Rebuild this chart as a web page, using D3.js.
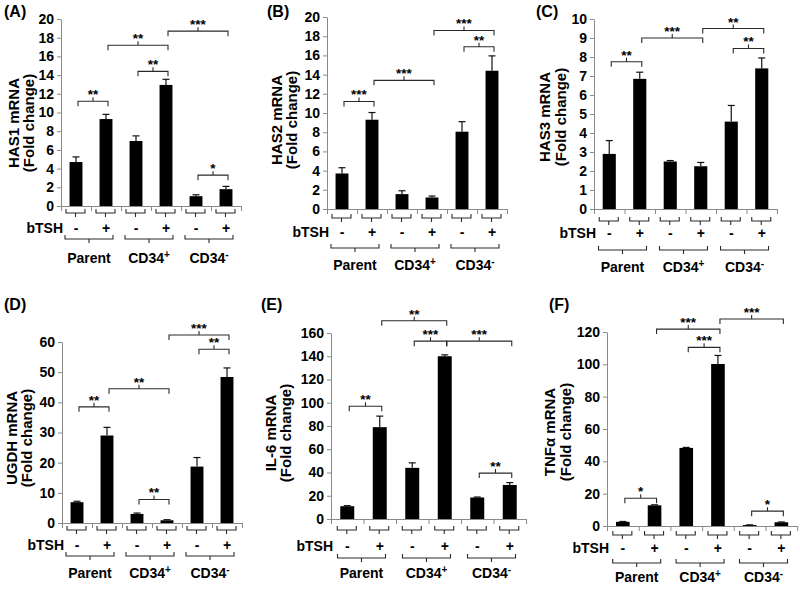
<!DOCTYPE html>
<html>
<head>
<meta charset="utf-8">
<style>
  body { margin: 0; background: #fff; }
  svg { font-family: "Liberation Sans", Arial, sans-serif; font-weight: bold; }
  .axis path, .axis line { stroke: #8a8a8a; }
  .axis text { font-size: 14px; font-weight: bold; fill: #000; font-family: "Liberation Sans", Arial, sans-serif; }
  .bracket { fill: none; stroke: #2a2a2a; stroke-width: 1.1; }
  .err { stroke: #111; stroke-width: 1.2; }
</style>
</head>
<body>
<svg id="chart" width="800" height="589"></svg>
<script src="https://cdn.jsdelivr.net/npm/d3@7/dist/d3.min.js"></script>
<script>
// categories
const groupNames = ["Parent", "CD34+", "CD34-"]
const bTSH = ["-", "+", "-", "+", "-", "+"]

// means and error bars (fold change)
const has1Mean = [4.7, 9.3, 6.95, 12.95, 1.05, 1.8]
const has1Err = [0.55, 0.5, 0.55, 0.6, 0.15, 0.3]
const has2Mean = [3.7, 9.3, 1.55, 1.2, 8.05, 14.4]
const has2Err = [0.6, 0.75, 0.35, 0.15, 1.05, 1.55]
const has3Mean = [2.9, 6.85, 2.5, 2.25, 4.6, 7.4]
const has3Err = [0.7, 0.35, 0.05, 0.2, 0.85, 0.55]
const ugdhMean = [6.9, 29.0, 3.0, 0.9, 18.7, 48.4]
const ugdhErr = [0.3, 2.7, 0.3, 0.2, 3.0, 3.0]
const il6Mean = [11, 79, 44, 140, 18.5, 29.3]
const il6Err = [0.5, 9.5, 4.3, 1.2, 0.4, 2.0]
const tnfMean = [2.6, 12.8, 48.3, 100.2, 0.6, 2.3]
const tnfErr = [0.2, 0.3, 0.3, 5.3, 0.1, 0.2]

// significance brackets: [from bar, to bar, label, height in data units]
const has1Sig = [[0, 1, "**", 11.2], [1, 3, "**", 17.2], [2, 3, "**", 14.4], [3, 5, "***", 18.7], [4, 5, "*", 3.3]]
const has2Sig = [[0, 1, "***", 11.2], [1, 3, "***", 13.4], [3, 5, "***", 18.6], [4, 5, "**", 16.9]]
const has3Sig = [[0, 1, "**", 7.75], [1, 3, "***", 9.0], [3, 5, "**", 9.5], [4, 5, "**", 8.45]]
const ugdhSig = [[0, 1, "**", 38.5], [1, 3, "**", 44.5], [2, 3, "**", 7.8], [3, 5, "***", 62.3], [4, 5, "**", 57.6]]
const il6Sig = [[0, 1, "**", 97], [1, 3, "**", 170.6], [2, 3, "***", 153], [3, 5, "***", 153], [4, 5, "**", 39.5]]
const tnfSig = [[0, 1, "*", 17.2], [1, 3, "***", 121.8], [2, 3, "***", 110.5], [3, 5, "***", 128], [4, 5, "*", 9.2]]

// panel layout
const panels = [
    { tag: "(A)", gene: "HAS1", mean: has1Mean, err: has1Err, sig: has1Sig, max: 20, tick: 2,
      x0: 61, step: 30, top: 19, bottom: 206, rows: [213, 228, 239, 258], tagAt: [4, 17], title: [14, 29, 123] },
    { tag: "(B)", gene: "HAS2", mean: has2Mean, err: has2Err, sig: has2Sig, max: 20, tick: 2,
      x0: 327, step: 30, top: 17, bottom: 209, rows: [218, 232, 248, 265], tagAt: [267, 17], title: [277, 292, 120] },
    { tag: "(C)", gene: "HAS3", mean: has3Mean, err: has3Err, sig: has3Sig, max: 10, tick: 1,
      x0: 594, step: 30.5, top: 19, bottom: 209, rows: [221, 233, 250, 267], tagAt: [536, 17], title: [545, 561, 117] },
    { tag: "(D)", gene: "UGDH", mean: ugdhMean, err: ugdhErr, sig: ugdhSig, max: 60, tick: 10,
      x0: 62, step: 30, top: 342, bottom: 523, rows: [530, 545, 556, 573], tagAt: [4, 310], title: [12, 27, 438] },
    { tag: "(E)", gene: "IL-6", mean: il6Mean, err: il6Err, sig: il6Sig, max: 160, tick: 20,
      x0: 331, step: 32.5, top: 333, bottom: 519, rows: [530, 546, 558, 573], tagAt: [261, 310], title: [271, 286, 433] },
    { tag: "(F)", gene: "TNF\u03b1", mean: tnfMean, err: tnfErr, sig: tnfSig, max: 120, tick: 20,
      x0: 607, step: 31.7, top: 332, bottom: 526, rows: [535, 548, 563, 577], tagAt: [549, 310], title: [550, 566, 432] }
]

let svg = d3.select("#chart")

function bracketDown(g, x1, x2, y) {
    // ends point up, centre tick points down
    let xm = (x1 + x2) / 2
    g.append("path").attr("class", "bracket")
        .attr("d", `M${x1},${y - 4}V${y}H${x2}V${y - 4}M${xm},${y}V${y + 4}`)
}

function drawPanel(p) {
    let g = svg.append("g")
    let idx = d3.range(p.mean.length)
    let width = p.step * idx.length

    let x = d3.scaleBand().domain(idx).range([p.x0, p.x0 + width])
        .paddingInner(0.57).paddingOuter(0.285)
    let y = d3.scaleLinear().domain([0, p.max]).range([p.bottom, p.top])
    let cx = i => x(i) + x.bandwidth() / 2

    // y axis
    g.append("g").attr("class", "axis")
        .attr("transform", `translate(${p.x0},0)`)
        .call(d3.axisLeft(y).tickValues(d3.range(0, p.max + p.tick / 2, p.tick)).tickSize(4).tickSizeOuter(0).tickPadding(3))

    // x axis with ticks on category boundaries
    let xb = d3.scaleLinear().domain([0, idx.length]).range([p.x0, p.x0 + width])
    g.append("g").attr("class", "axis")
        .attr("transform", `translate(0,${p.bottom})`)
        .call(d3.axisBottom(xb).tickValues(d3.range(0, idx.length + 1)).tickSize(5).tickSizeOuter(0).tickFormat(""))

    // bars
    g.selectAll("rect.bar").data(idx).enter().append("rect")
        .attr("x", i => x(i))
        .attr("width", x.bandwidth())
        .attr("y", i => y(p.mean[i]))
        .attr("height", i => p.bottom - y(p.mean[i]))
        .attr("fill", "#000")

    // error bars
    idx.forEach(i => {
        let yt = y(p.mean[i] + p.err[i])
        g.append("line").attr("class", "err").attr("x1", cx(i)).attr("x2", cx(i))
            .attr("y1", y(p.mean[i])).attr("y2", yt)
        g.append("line").attr("class", "err").attr("x1", cx(i) - 3.5).attr("x2", cx(i) + 3.5)
            .attr("y1", yt).attr("y2", yt)
    })

    // significance brackets
    p.sig.forEach(s => {
        let x1 = cx(s[0]) + 2, x2 = cx(s[1]) + 2, yy = y(s[3]), xm = (x1 + x2) / 2
        g.append("path").attr("class", "bracket")
            .attr("d", `M${x1},${yy + 5}V${yy}H${x2}V${yy + 5}M${xm},${yy}V${yy - 4}`)
        g.append("text").attr("x", xm).attr("y", yy - 2)
            .attr("text-anchor", "middle").attr("font-size", 13.5).text(s[2])
    })

    // per-bar brackets and bTSH row
    idx.forEach(i => bracketDown(g, cx(i) - 10, cx(i) + 9, p.rows[0]))
    g.append("text").attr("x", p.x0 + 2).attr("y", p.rows[1]).attr("dy", "0.36em")
        .attr("text-anchor", "end").attr("font-size", 14).text("bTSH")
    g.selectAll("text.cond").data(idx).enter().append("text")
        .attr("x", i => cx(i)).attr("y", p.rows[1]).attr("dy", "0.36em")
        .attr("text-anchor", "middle").attr("font-size", 14).text(i => bTSH[i])

    // group brackets and labels
    groupNames.forEach((name, k) => {
        let gc = (cx(2 * k) + cx(2 * k + 1)) / 2
        bracketDown(g, gc - 26, gc + 22, p.rows[2])
        let t = g.append("text").attr("x", gc - 2).attr("y", p.rows[3]).attr("dy", "0.36em")
            .attr("text-anchor", "middle").attr("font-size", 14)
        if (name === "Parent") {
            t.text(name)
        } else {
            t.append("tspan").text("CD34")
            t.append("tspan").attr("dy", -5).attr("font-size", 10).text(name.slice(4))
        }
    })

    // y title
    let ty = p.title[2]
    g.append("text").attr("transform", `translate(${p.title[0]},${ty}) rotate(-90)`)
        .attr("dy", "0.36em").attr("text-anchor", "middle").attr("font-size", 15)
        .text(p.gene + " mRNA")
    g.append("text").attr("transform", `translate(${p.title[1]},${ty}) rotate(-90)`)
        .attr("dy", "0.36em").attr("text-anchor", "middle").attr("font-size", 15)
        .text("(Fold change)")

    // panel tag
    g.append("text").attr("x", p.tagAt[0]).attr("y", p.tagAt[1])
        .attr("font-size", 16).text(p.tag)
}

panels.forEach(drawPanel)
</script>
</body>
</html>
